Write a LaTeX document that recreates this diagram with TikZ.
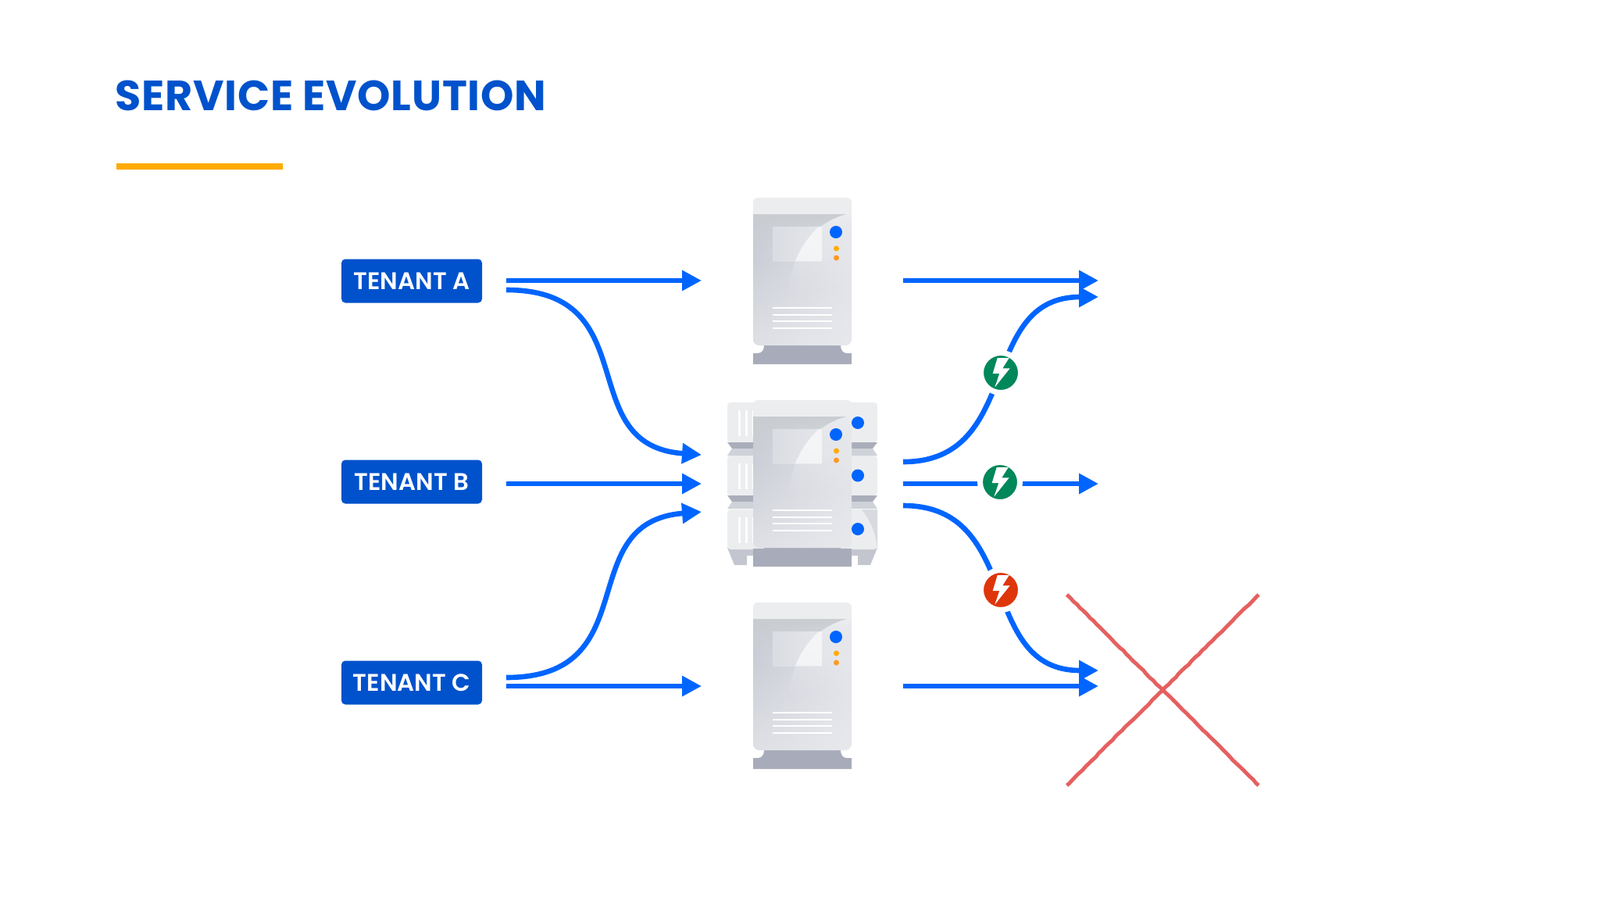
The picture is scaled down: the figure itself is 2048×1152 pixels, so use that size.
\documentclass[tikz,border=0pt]{standalone}
\usepackage{fontspec}
\setmainfont{Poppins}
\newfontfamily\titlefont[LetterSpace=1.4]{Poppins}
\newfontfamily\labelfont{Poppins SemiBold}
\usetikzlibrary{arrows.meta,fadings,decorations.pathmorphing}
\definecolor{flowblue}{HTML}{0065FF}
\definecolor{boxblue}{HTML}{0052CC}
\definecolor{barorange}{HTML}{FFAB00}
\definecolor{dotblue}{HTML}{0065FF}
\definecolor{dotorange}{HTML}{FF991F}
\definecolor{okgreen}{HTML}{00875A}
\definecolor{badred}{HTML}{DE350B}
\definecolor{crossred}{HTML}{E5605F}
\definecolor{srvtop}{HTML}{ECEDEF}
\definecolor{srvbase}{HTML}{A8ACBA}
\definecolor{srvA}{HTML}{CBCED6}
\definecolor{srvB}{HTML}{E2E3E8}
\definecolor{srvC}{HTML}{ECEDF0}
\definecolor{srvD}{HTML}{C9CDD1}
\definecolor{wingdark}{HTML}{AAAEBA}
\definecolor{wingmid}{HTML}{CFD2D9}
\tikzset{
  x=0.5pt,y=-0.5pt,
  flow/.style={draw=flowblue,line width=3.3pt,-{Triangle[length=12.5pt,width=12.5pt]}},
  tenant/.style={fill=boxblue,rounded corners=2.5pt,minimum width=90pt,minimum height=28pt,inner sep=0pt,text=white,font=\fontsize{15.4}{15.4}\labelfont},
  badge/.style={circle,minimum size=25.5pt,inner sep=0pt,outer sep=0pt,draw=white,line width=3.5pt},
  bolt/.style={fill=white},
  pics/server/.style={code={
    % base
    \fill[srvbase] (14,192) .. controls (14,198) and (11,202) .. (6,202) -- (0,202) -- (0,216) -- (126,216) -- (126,202) -- (120,202) .. controls (115,202) and (112,198) .. (112,192) -- cycle;
    % body
    \shade[left color=srvA,right color=srvB,rounded corners=4pt] (0,15) -- (0,192) -- (126,192) -- (126,15) -- cycle;
    \fill[srvC,opacity=.6,path fading=north,rounded corners=4pt] (0,80) -- (0,192) -- (126,192) -- (126,80) -- cycle;
    \fill[srvD,path fading=south] (0,24) rectangle (126,70);
    % window
    \shade[left color=srvA!70!white,right color=srvB!90!white] (25,40) rectangle (88,84);
    % swoosh
    \fill[srvC,path fading=south] (126,23) .. controls (100,27) and (70,45) .. (54,84) .. controls (50,95) and (46,110) .. (44,125) -- (126,125) -- cycle;
    \fill[white,opacity=.55] (88,40) -- (84,40) .. controls (73,50) and (61,66) .. (54,84) -- (88,84) -- cycle;
    % top band
    \fill[srvtop,rounded corners=3pt] (0,24) -- (0,3) -- (126,3) -- (126,24) -- cycle;
    \fill[srvtop] (0,10) rectangle (126,24);
    % lights
    \fill[dotblue] (106,47) circle (8);
    \fill[barorange] (106.5,68) circle (3.5);
    \fill[dotorange] (106.5,80) circle (3.5);
    % vents
    \foreach \vy in {143,152,160,169}
      \fill[white] (25,\vy) rectangle (101,\vy+1.7);
  }},
}
\begin{document}
\begin{tikzpicture}
\useasboundingbox (0,0) rectangle (2048,1152);
\fill[white] (0,0) rectangle (2048,1152);
% title
\node[anchor=west,inner sep=0pt,text=boxblue,font=\fontsize{27}{27}\titlefont\bfseries] (title) at (147,122) {SERVICE EVOLUTION};
\fill[barorange] (149,209) rectangle (362,217);
% tenants
\node[tenant] (ta) at (527,359.5) {TENANT A};
\node[tenant] (tb) at (527,616.5) {TENANT B};
\node[tenant] (tc) at (527,873.5) {TENANT C};
% servers
\pic at (964,250) {server};
\pic at (964,768) {server};
% middle stack wings
\begin{scope}[shift={(931,515)}]
  \fill[wingdark!70!white] (0,186) -- (192,186) -- (183,208) -- (167,208) -- (167,196) -- (25,196) -- (25,208) -- (9,208) -- cycle;
  \foreach \wy in {0,68,137}{
    \begin{scope}[yshift=-\wy*0.5pt]
      \fill[srvtop,rounded corners=2pt] (0,0) rectangle (192,51);
      \foreach \vx in {14,23,32} \fill[white] (\vx,10) rectangle (\vx+3,43);
    \end{scope}
  }
  \fill[wingmid!70!srvtop] (170,137) -- (192,137) -- (192,188) .. controls (190,165) and (182,150) .. (172,137) -- cycle;
  \foreach \wy in {0,68}{
    \begin{scope}[yshift=-\wy*0.5pt]
      \fill[wingdark] (0,51) -- (192,51) -- (186,59) -- (6,59) -- cycle;
      \fill[wingmid] (6,59) -- (186,59) -- (192,68) -- (0,68) -- cycle;
    \end{scope}
  }
\end{scope}
\pic at (964,509) {server};
\fill[srvbase] (964,702) rectangle (1090,725);
\fill[dotblue] (1098,541) circle (8);
\fill[dotblue] (1098,608.5) circle (8);
\fill[dotblue] (1098,677) circle (8);
% connector anchors
\coordinate (lA1) at (648,359); \coordinate (aA1) at (898,359);
\coordinate (lA2) at (648,371); \coordinate (aA2) at (898,582);
\coordinate (lB) at (648,619);  \coordinate (aB) at (898,619);
\coordinate (lC2) at (648,867); \coordinate (aC2) at (898,655);
\coordinate (lC1) at (648,878); \coordinate (aC1) at (898,878);
\coordinate (rA1) at (1156,359); \coordinate (eA1) at (1406,359);
\coordinate (rA2) at (1156,591); \coordinate (eA2) at (1406,380);
\coordinate (rB) at (1156,619);  \coordinate (eB) at (1406,619);
\coordinate (rC2) at (1156,647); \coordinate (eC2) at (1406,858);
\coordinate (rC1) at (1156,878); \coordinate (eC1) at (1406,878);
\coordinate (xa) at (1365.5,761); \coordinate (xb) at (1611,1005);
\coordinate (xc) at (1611,761); \coordinate (xd) at (1365.5,1005);
% flows
\draw[flow] (lA1) -- (aA1);
\draw[flow] (lA2) .. controls (830,371) and (730,570) .. (aA2);
\draw[flow] (lB) -- (aB);
\draw[flow] (lC2) .. controls (830,867) and (730,668) .. (aC2);
\draw[flow] (lC1) -- (aC1);
\draw[flow] (rA1) -- (eA1);
\draw[flow] (rA2) .. controls (1310,591) and (1250,380) .. (eA2);
\draw[flow] (rB) -- (eB);
\draw[flow] (rC2) .. controls (1310,647) and (1250,858) .. (eC2);
\draw[flow] (rC1) -- (eC1);
% badges
\foreach \bname/\bx/\by/\bcol in {ba/1281/477/okgreen,bb/1280/617/okgreen,bc/1281/755/badred}{
  \node[badge,fill=\bcol] (\bname) at (\bx,\by) {};
  \fill[bolt] (\bx+10.7,\by-19) -- (\bx-4.3,\by-19) -- (\bx-10.3,\by+1) -- (\bx-1.7,\by+1) -- (\bx-7.7,\by+18.7) -- (\bx+11.7,\by-5.7) -- (\bx+2.3,\by-5.7) -- cycle;
}
% cross
\draw[crossred,line width=2.4pt,decorate,decoration={random steps,segment length=3pt,amplitude=0.25pt}] (xa) -- (xb);
\draw[crossred,line width=2.4pt,decorate,decoration={random steps,segment length=3pt,amplitude=0.25pt}] (xc) -- (xd);
\end{tikzpicture}
\end{document}
